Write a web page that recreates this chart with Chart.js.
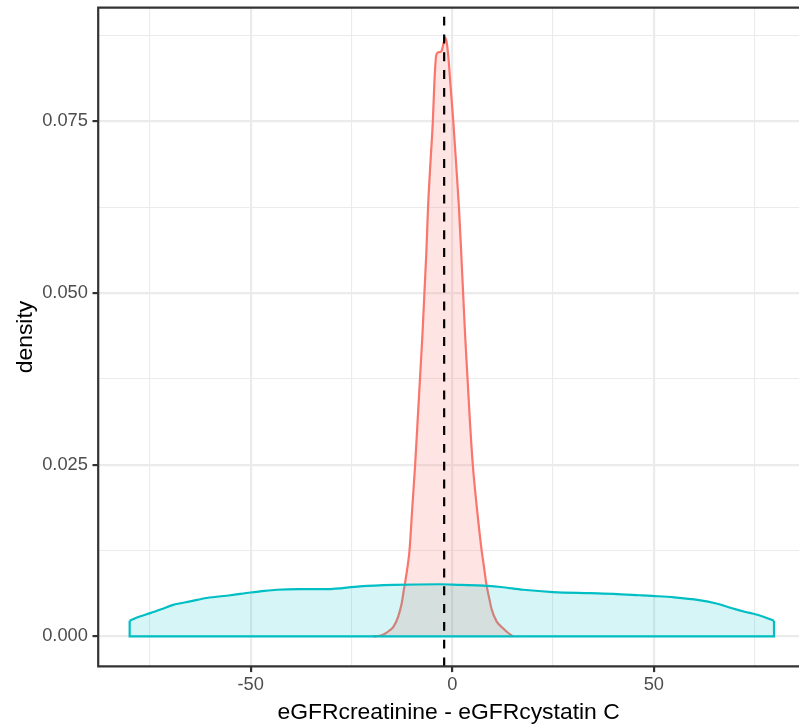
<!DOCTYPE html>
<html><head><meta charset="utf-8">
<script src="https://cdn.jsdelivr.net/npm/chart.js@4"></script>
<style>html,body{margin:0;padding:0;background:#fff}canvas{display:block}</style>
</head><body>
<canvas id="c" width="799" height="725"></canvas>
<script>
// ---- data ----
const redX = [-19.6,-18.0,-16.7,-15.5,-14.6,-13.4,-12.5,-12.0,-11.7,-11.0,-10.6,-9.9,-9.2,-8.6,-8.0,-7.4,-6.9,-6.4,-6.0,-5.4,-4.8,-4.4,-4.0,-3.6,-3.0,-2.6,-2.2,-1.8,-1.4,-0.9,-0.4,0.25,1.0,1.66,2.2,2.7,3.2,3.8,4.4,5.1,6.1,7.3,7.9,8.5,9.2,9.8,11.0,12.6,13.9,15.1];
const redY = [0.0000,0.0001,0.0004,0.0009,0.0014,0.0029,0.0049,0.0068,0.0078,0.0105,0.0125,0.0188,0.0250,0.0312,0.0375,0.0438,0.0500,0.0562,0.0625,0.0690,0.0751,0.0810,0.0845,0.0850,0.0851,0.0853,0.0862,0.0872,0.0866,0.0840,0.0800,0.0751,0.0685,0.0625,0.0562,0.0500,0.0438,0.0375,0.0312,0.0250,0.0188,0.0125,0.0100,0.0075,0.0055,0.0039,0.0022,0.0012,0.0005,0.0000];
const tealX = [-80.0,-77.5,-74.9,-72.0,-69.2,-65.0,-60.9,-55.0,-50.0,-47.7,-43.5,-38.0,-31.1,-22.9,-14.6,-3.0,1.9,7.7,12.0,17.6,25.0,34.1,40.0,46.5,49.6,55.0,61.2,65.5,69.4,72.5,75.4,77.5,79.8];
const tealY = [0.0023,0.0029,0.0034,0.0040,0.0046,0.0051,0.0056,0.0060,0.0064,0.00655,0.0068,0.0069,0.0069,0.0073,0.0075,0.0076,0.0075,0.0074,0.0072,0.0068,0.00646,0.0063,0.0062,0.0060,0.0059,0.0057,0.0053,0.0048,0.0041,0.0036,0.0032,0.0028,0.0023];
const vlineX = -2;
const xTicks = [-75,-50,-25,0,25,50,75];
const xMajor = [-50,0,50];
const yTicks = [0,0.0125,0.025,0.0375,0.05,0.0625,0.075,0.0875];
const yMajor = [0,0.025,0.05,0.075];
const xTitle = 'eGFRcreatinine - eGFRcystatin C';
const yTitle = 'density';

// ---- build ----
const FAMILY = '"Liberation Sans", Arial, Helvetica, sans-serif';
const TEAL = '#00BFC4', RED = '#F8766D';
const redData = redX.map((x,i)=>({x, y: redY[i]}));
const tealData = tealX.map((x,i)=>({x, y: tealY[i]}));
const nT = tealX.length - 1;
// closing edges of the teal density polygon (right edge, baseline, left edge)
const tealEdge = [
  {x: tealX[nT], y: tealY[nT]}, {x: tealX[nT], y: 0},
  {x: tealX[0], y: 0}, {x: tealX[0], y: tealY[0]}
];

const overlay = {
  id: 'overlay',
  afterDatasetsDraw(chart){
    const {ctx, chartArea: a, scales: {x}} = chart;
    const px = x.getPixelForValue(vlineX);
    ctx.save();
    ctx.strokeStyle = '#000000'; ctx.lineWidth = 2.2; ctx.setLineDash([8.9, 8.9]);
    ctx.beginPath(); ctx.moveTo(px, a.bottom); ctx.lineTo(px, a.top); ctx.stroke();
    ctx.setLineDash([]);
    ctx.strokeStyle = '#333333'; ctx.lineWidth = 2.2;
    ctx.beginPath();
    ctx.moveTo(a.right + 3, a.top); ctx.lineTo(a.left, a.top);
    ctx.lineTo(a.left, a.bottom); ctx.lineTo(a.right + 3, a.bottom);
    ctx.stroke();
    ctx.restore();
  }
};

const isMajor = (list, c) => !!(c && c.tick && list.includes(c.tick.value));

new Chart(document.getElementById('c'), {
  type: 'line',
  data: {
    datasets: [
      { data: tealEdge, borderColor: TEAL, borderWidth: 2.2, fill: false, pointRadius: 0, tension: 0 },
      { data: tealData, borderColor: TEAL, backgroundColor: 'rgba(0,191,196,0.16)', borderWidth: 2.2, fill: 'origin', pointRadius: 0, cubicInterpolationMode: 'monotone' },
      { data: redData, borderColor: RED, backgroundColor: 'rgba(248,118,109,0.2)', borderWidth: 2.2, fill: 'origin', pointRadius: 0, cubicInterpolationMode: 'monotone' }
    ]
  },
  options: {
    responsive: false, animation: false, devicePixelRatio: 1,
    layout: { padding: { top: 7.6, left: 0, right: 0, bottom: 0 } },
    plugins: { legend: { display: false }, tooltip: { enabled: false } },
    scales: {
      x: {
        type: 'linear', min: -87.8, max: 86.0,
        afterBuildTicks: s => { s.ticks = xTicks.map(v => ({value: v})); },
        afterFit: s => { s.height = 58.6; s.paddingLeft = 0; s.paddingRight = 0; },
        border: { display: false },
        grid: {
          color: '#EBEBEB',
          lineWidth: c => isMajor(xMajor, c) ? 2.2 : 1.1,
          drawTicks: true, tickLength: 5.7,
          tickColor: c => isMajor(xMajor, c) ? '#333333' : 'rgba(0,0,0,0)',
          tickWidth: 2.2
        },
        ticks: {
          autoSkip: false, maxRotation: 0, padding: 2, color: '#4D4D4D',
          font: { family: FAMILY, size: 18.3 },
          callback: v => xMajor.includes(v) ? String(v) : ''
        },
        title: { display: true, text: xTitle, color: '#000000',
          font: { family: FAMILY, size: 22.9, lineHeight: 1 }, padding: { top: 0, bottom: 0.5 } }
      },
      y: {
        type: 'linear', min: -0.00436, max: 0.09156,
        afterBuildTicks: s => { s.ticks = yTicks.map(v => ({value: v})); },
        afterFit: s => { s.width = 98.2; s.paddingTop = 0; s.paddingBottom = 0; },
        border: { display: false },
        grid: {
          color: '#EBEBEB',
          lineWidth: c => isMajor(yMajor, c) ? 2.2 : 1.1,
          drawTicks: true, tickLength: 5.7,
          tickColor: c => isMajor(yMajor, c) ? '#333333' : 'rgba(0,0,0,0)',
          tickWidth: 2.2
        },
        ticks: {
          autoSkip: false, padding: 4.6, color: '#4D4D4D',
          font: { family: FAMILY, size: 18.3 },
          callback: v => yMajor.includes(v) ? v.toFixed(3) : ''
        },
        title: { display: true, text: yTitle, color: '#000000',
          font: { family: FAMILY, size: 22.9, lineHeight: 1 }, padding: { top: 14.5, bottom: 0 } }
      }
    }
  },
  plugins: [overlay]
});
</script>
</body></html>
